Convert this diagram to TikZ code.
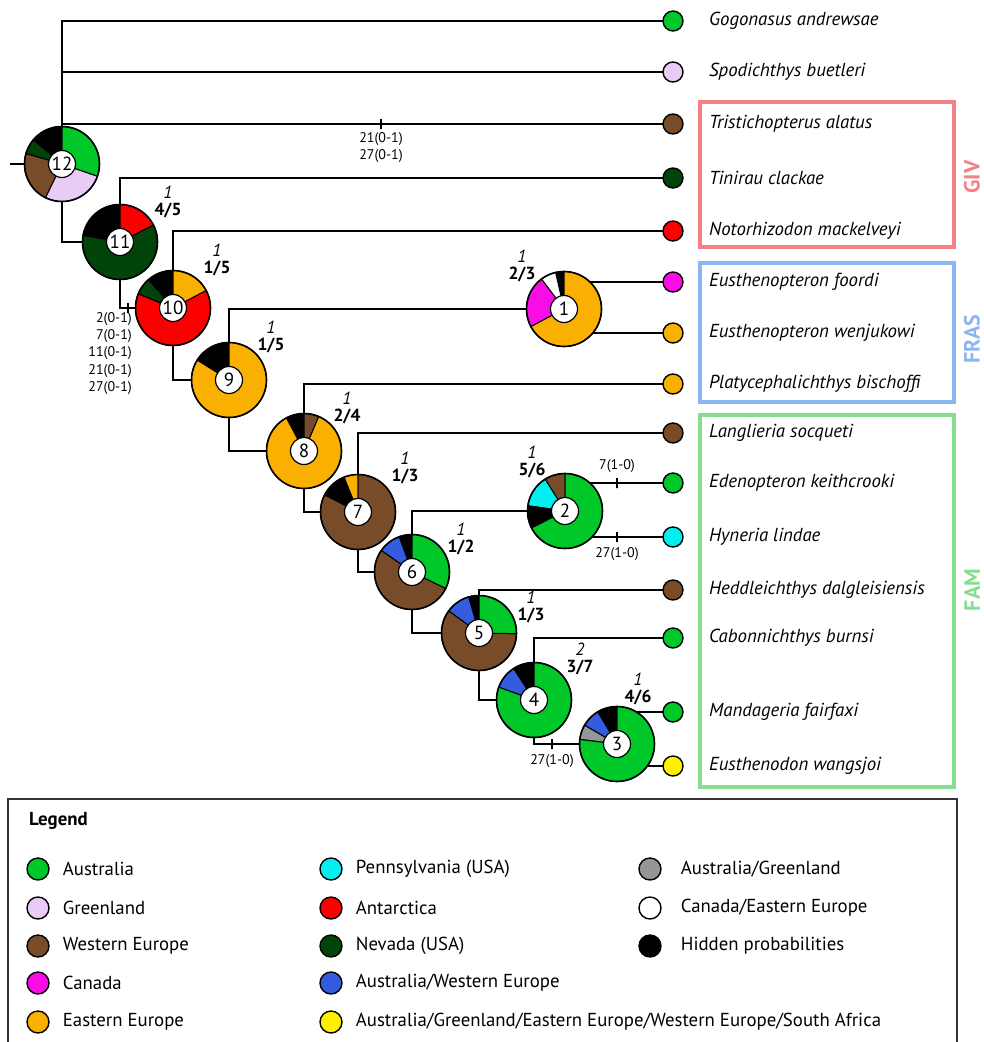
\documentclass[tikz,border=0pt]{standalone}
\usepackage{fontspec}
\setmainfont{PT Sans}
\usepackage{tikz}
\usetikzlibrary{positioning, backgrounds}
\definecolor{australia}{RGB}{0,200,40}
\definecolor{greenland}{RGB}{232,204,246}
\definecolor{westeurope}{RGB}{120,76,40}
\definecolor{canada}{RGB}{250,12,230}
\definecolor{easteurope}{RGB}{250,176,0}
\definecolor{pennsylvania}{RGB}{0,240,240}
\definecolor{antarctica}{RGB}{250,0,0}
\definecolor{nevada}{RGB}{0,68,10}
\definecolor{auswesteu}{RGB}{52,92,222}
\definecolor{mixall}{RGB}{255,240,0}
\definecolor{ausgreen}{RGB}{150,150,150}
\definecolor{canadaeast}{RGB}{255,255,255}
\definecolor{hidden}{RGB}{0,0,0}
\definecolor{givcolor}{RGB}{245,128,134}
\definecolor{frascolor}{RGB}{140,182,242}
\definecolor{famcolor}{RGB}{132,222,142}

% ancestral area pie: name, centre, number, slices (start/end/colour)
\newcommand{\areapie}[4]{%
  \foreach \sa/\ea/\col in {#4}
    \filldraw[fill=\col, draw=black, line width=1pt] (#2) -- ++(\sa:37.5) arc[start angle=\sa, end angle=\ea, radius=37.5] -- cycle;
  \node[pieframe] (#1) at (#2) {};
  \node[pienum] (#1num) at (#2) {#3};
}

\begin{document}
\begin{tikzpicture}[
    x=1pt, y=1pt,
    pieframe/.style={
        circle,
        draw=black,
        line width=1.6pt,
        minimum size=75pt,
        inner sep=0pt,
        outer sep=0pt
    },
    pienum/.style={
        circle,
        fill=white,
        draw=black,
        line width=1.2pt,
        minimum size=27pt,
        inner sep=0pt,
        font=\fontsize{19}{19}\selectfont
    },
    leaf/.style={
        circle,
        draw=black,
        line width=1.4pt,
        minimum size=20pt,
        inner sep=0pt,
        outer sep=0pt
    },
    taxon/.style={
        inner sep=0pt,
        font=\fontsize{18.8}{18.8}\selectfont\itshape
    },
    branch/.style={
        line width=1.6pt,
        color=black
    },
    chartick/.style={
        draw,
        line width=1.2pt,
        minimum width=0pt,
        minimum height=10pt,
        inner sep=0pt,
        outer sep=0pt
    },
    charlab/.style={
        inner sep=0pt,
        align=right,
        font=\fontsize{14}{17.3}\selectfont
    },
    supp/.style={
        inner sep=0pt,
        font=\fontsize{17.5}{17.5}\selectfont\bfseries
    },
    boot/.style={
        inner sep=0pt,
        font=\fontsize{17.5}{17.5}\selectfont\itshape
    },
    groupbox/.style={
        line width=4pt
    },
    grouplab/.style={
        rotate=90,
        inner sep=0pt,
        font=\fontsize{22}{22}\selectfont\bfseries
    },
    legdot/.style={
        circle,
        draw=black,
        line width=1.4pt,
        minimum size=22pt,
        inner sep=0pt
    },
    legtext/.style={
        inner sep=0pt,
        font=\fontsize{18.8}{18.8}\selectfont
    }
]

\useasboundingbox (0,0) rectangle (984,-1042);

% Ancestral areas
\areapie{n12}{62,-164}{12}{90/140/hidden, 140/164/nevada, 164/244/westeurope, 244/341/greenland, 341/450/australia}
\areapie{n11}{120,-242}{11}{90/170/hidden, 170/387/nevada, 387/450/antarctica}
\areapie{n10}{173,-308}{10}{90/131/hidden, 131/158/nevada, 158/388/antarctica, 388/450/easteurope}
\areapie{n9}{229,-380}{9}{90/148/hidden, 148/450/easteurope}
\areapie{n8}{304,-451}{8}{90/118/hidden, 118/427/easteurope, 427/450/westeurope}
\areapie{n7}{358,-512}{7}{90/112/easteurope, 112/153/hidden, 153/450/westeurope}
\areapie{n6}{412,-572}{6}{90/110/hidden, 110/145/auswesteu, 145/334/westeurope, 334/450/australia}
\areapie{n5}{479,-633}{5}{90/106/hidden, 106/144/auswesteu, 144/359/westeurope, 359/450/australia}
\areapie{n4}{534,-700}{4}{90/123/hidden, 123/160/auswesteu, 160/450/australia}
\areapie{n3}{617,-744}{3}{90/121/hidden, 121/150/auswesteu, 150/173/ausgreen, 173/450/australia}
\areapie{n2}{565,-511}{2}{90/122/westeurope, 122/172/pennsylvania, 172/207/hidden, 207/450/australia}
\areapie{n1}{564,-309}{1}{90/103/hidden, 103/127/canadaeast, 127/208/canada, 208/450/easteurope}

% Support values
\node[supp] (n11supp) at (168,-210) {4/5};
\node[boot, above=4pt of n11supp] (n11boot) {1};
\node[supp] (n10supp) at (217,-268) {1/5};
\node[boot, above=4pt of n10supp] (n10boot) {1};
\node[supp] (n9supp) at (271,-345) {1/5};
\node[boot, above=4pt of n9supp] (n9boot) {1};
\node[supp] (n8supp) at (347,-416) {2/4};
\node[boot, above=4pt of n8supp] (n8boot) {1};
\node[supp] (n7supp) at (405,-476) {1/3};
\node[boot, above=4pt of n7supp] (n7boot) {1};
\node[supp] (n6supp) at (461,-547) {1/2};
\node[boot, above=4pt of n6supp] (n6boot) {1};
\node[supp] (n5supp) at (531,-615) {1/3};
\node[boot, above=4pt of n5supp] (n5boot) {1};
\node[supp] (n4supp) at (580,-667) {3/7};
\node[boot, above=4pt of n4supp] (n4boot) {2};
\node[supp] (n3supp) at (638,-697) {4/6};
\node[boot, above=4pt of n3supp] (n3boot) {1};
\node[supp] (n2supp) at (532,-470) {5/6};
\node[boot, above=4pt of n2supp] (n2boot) {1};
\node[supp] (n1supp) at (522,-274) {2/3};
\node[boot, above=4pt of n1supp] (n1boot) {1};

% Terminal taxa
\node[leaf, fill=australia] (gogo) at (673,-21) {};
\node[taxon, right=26pt of gogo] (gogolab) {Gogonasus andrewsae};
\node[leaf, fill=greenland] (spod) at (673,-72) {};
\node[taxon, right=26pt of spod] (spodlab) {Spodichthys buetleri};
\node[leaf, fill=westeurope] (tris) at (673,-124) {};
\node[taxon, right=26pt of tris] (trislab) {Tristichopterus alatus};
\node[leaf, fill=nevada] (tini) at (673,-178) {};
\node[taxon, right=26pt of tini] (tinilab) {Tinirau clackae};
\node[leaf, fill=antarctica] (noto) at (673,-231) {};
\node[taxon, right=26pt of noto] (notolab) {Notorhizodon mackelveyi};
\node[leaf, fill=canada] (foor) at (673,-282) {};
\node[taxon, right=26pt of foor] (foorlab) {Eusthenopteron foordi};
\node[leaf, fill=easteurope] (wenj) at (673,-333) {};
\node[taxon, right=26pt of wenj] (wenjlab) {Eusthenopteron wenjukowi};
\node[leaf, fill=easteurope] (plat) at (673,-384) {};
\node[taxon, right=26pt of plat] (platlab) {Platycephalichthys bischoffi};
\node[leaf, fill=westeurope] (lang) at (673,-433) {};
\node[taxon, right=26pt of lang] (langlab) {Langlieria socqueti};
\node[leaf, fill=australia] (eden) at (673,-483) {};
\node[taxon, right=26pt of eden] (edenlab) {Edenopteron keithcrooki};
\node[leaf, fill=pennsylvania] (hyne) at (673,-537) {};
\node[taxon, right=26pt of hyne] (hynelab) {Hyneria lindae};
\node[leaf, fill=westeurope] (hedd) at (673,-590) {};
\node[taxon, right=26pt of hedd] (heddlab) {Heddleichthys dalgleisiensis};
\node[leaf, fill=australia] (cabo) at (673,-638) {};
\node[taxon, right=26pt of cabo] (cabolab) {Cabonnichthys burnsi};
\node[leaf, fill=australia] (mand) at (673,-712) {};
\node[taxon, right=26pt of mand] (mandlab) {Mandageria fairfaxi};
\node[leaf, fill=mixall] (eust) at (673,-766) {};
\node[taxon, right=26pt of eust] (eustlab) {Eusthenodon wangsjoi};

% Character changes
\node[chartick] (t1) at (381,-124) {};
\node[charlab, align=center, below=3pt of t1] (t1lab) {21(0-1)\\27(0-1)};
\node[chartick] (t2) at (128,-308) {};
\node[charlab, anchor=north east] (t2lab) at (132,-312) {2(0-1)\\7(0-1)\\11(0-1)\\21(0-1)\\27(0-1)};
\node[chartick] (t3) at (617,-483) {};
\node[charlab, above=5pt of t3] (t3lab) {7(1-0)};
\node[chartick] (t4) at (617,-537) {};
\node[charlab, below=5pt of t4] (t4lab) {27(1-0)};
\node[chartick] (t5) at (552,-744) {};
\node[charlab, below=5pt of t5] (t5lab) {27(1-0)};

% Branches
\coordinate (root) at (10,-164);
\begin{pgfonlayer}{background}
\draw[branch] (root) -- (n12.west);
\draw[branch] (n12.north) |- (gogo.west);
\draw[branch] (n12.north) |- (spod.west);
\draw[branch] (n12.north) |- (tris.west);
\draw[branch] (n12.south) |- (n11.west);
\draw[branch] (n11.north) |- (tini.west);
\draw[branch] (n11.south) |- (n10.west);
\draw[branch] (n10.north) |- (noto.west);
\draw[branch] (n10.south) |- (n9.west);
\draw[branch] (n9.north) |- (n1.west);
\draw[branch] (n1.center |- foor) -- (foor.west);
\draw[branch] (n1.center |- wenj) -- (wenj.west);
\draw[branch] (n9.south) |- (n8.west);
\draw[branch] (n8.north) |- (plat.west);
\draw[branch] (n8.south) |- (n7.west);
\draw[branch] (n7.north) |- (lang.west);
\draw[branch] (n7.south) |- (n6.west);
\draw[branch] (n6.north) |- (n2.west);
\draw[branch] (n2.center |- eden) -- (eden.west);
\draw[branch] (n2.center |- hyne) -- (hyne.west);
\draw[branch] (n6.south) |- (n5.west);
\draw[branch] (n5.north) |- (hedd.west);
\draw[branch] (n5.south) |- (n4.west);
\draw[branch] (n4.north) |- (cabo.west);
\draw[branch] (n4.south) |- (n3.west);
\draw[branch] (n3.center |- mand) -- (mand.west);
\draw[branch] (n3.center |- eust) -- (eust.west);
\end{pgfonlayer}

% Stratigraphic groups
\draw[groupbox, givcolor] (700,-102) rectangle (954,-247);
\node[grouplab, text=givcolor] (giv) at (972,-177) {GIV};
\draw[groupbox, frascolor] (700,-263) rectangle (954,-402);
\node[grouplab, text=frascolor] (fras) at (972,-339) {FRAS};
\draw[groupbox, famcolor] (700,-415) rectangle (954,-787);
\node[grouplab, text=famcolor] (fam) at (972,-590) {FAM};

% Legend
\draw[line width=1.6pt, black!80] (8,-1042) |- (957,-799) -- (957,-1042);
\node[legtext, font=\fontsize{18.8}{18.8}\selectfont\bfseries, anchor=west] (legtitle) at (29,-821) {Legend};

\node[legdot, fill=australia] (lg1) at (38,-869) {};
\node[legtext, right=13pt of lg1] {Australia};
\node[legdot, fill=greenland] (lg2) at (38,-908) {};
\node[legtext, right=13pt of lg2] {Greenland};
\node[legdot, fill=westeurope] (lg3) at (38,-946) {};
\node[legtext, right=13pt of lg3] {Western Europe};
\node[legdot, fill=canada] (lg4) at (38,-983) {};
\node[legtext, right=13pt of lg4] {Canada};
\node[legdot, fill=easteurope] (lg5) at (38,-1022) {};
\node[legtext, right=13pt of lg5] {Eastern Europe};

\node[legdot, fill=pennsylvania] (lg6) at (331,-869) {};
\node[legtext, right=13pt of lg6] {Pennsylvania (USA)};
\node[legdot, fill=antarctica] (lg7) at (331,-908) {};
\node[legtext, right=13pt of lg7] {Antarctica};
\node[legdot, fill=nevada] (lg8) at (331,-946) {};
\node[legtext, right=13pt of lg8] {Nevada (USA)};
\node[legdot, fill=auswesteu] (lg9) at (331,-983) {};
\node[legtext, right=13pt of lg9] {Australia/Western Europe};
\node[legdot, fill=mixall] (lg10) at (331,-1022) {};
\node[legtext, right=13pt of lg10] {Australia/Greenland/Eastern Europe/Western Europe/South Africa};

\node[legdot, fill=ausgreen] (lg11) at (650,-869) {};
\node[legtext, right=19pt of lg11] {Australia/Greenland};
\node[legdot, fill=canadaeast] (lg12) at (650,-908) {};
\node[legtext, right=19pt of lg12] {Canada/Eastern Europe};
\node[legdot, fill=hidden] (lg13) at (650,-946) {};
\node[legtext, right=19pt of lg13] {Hidden probabilities};

\end{tikzpicture}
\end{document}
